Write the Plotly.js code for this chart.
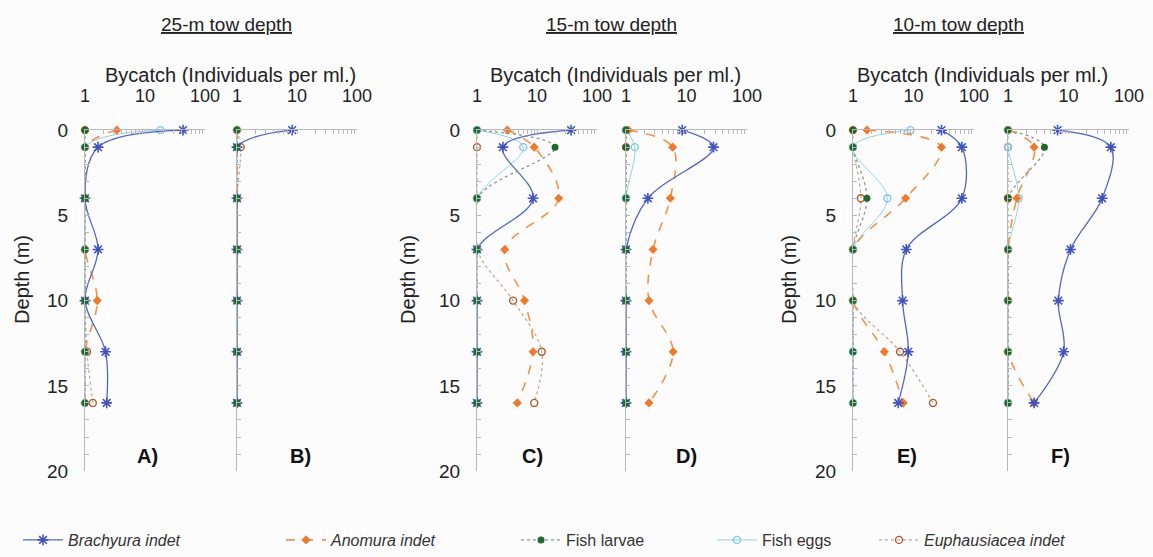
<!DOCTYPE html>
<html>
<head>
<meta charset="utf-8">
<script src="https://cdn.plot.ly/plotly-3.0.1.min.js"></script>
<style>html,body{margin:0;padding:0;background:#fdfcfd;}#chart{width:1153px;height:557px;}</style>
</head>
<body>
<div id="chart"></div>
<script>
// Depths (m) at which samples were taken
const depths = [0, 1, 4, 7, 10, 13, 16];

// Panel titles / tick labels
const towTitles = ['25-m tow depth', '15-m tow depth', '10-m tow depth'];
const panelLabels = ['A)', 'B)', 'C)', 'D)', 'E)', 'F)'];
const xTickVals = [1, 10, 100];
const yTickVals = [0, 5, 10, 15, 20];
const seriesNames = ['<i>Brachyura indet</i>', '<i>Anomura indet</i>', 'Fish larvae', 'Fish eggs', '<i>Euphausiacea indet</i>'];

// Bycatch (individuals per ml), panels A–F
const brachyuraA = [43, 1.65, 1, 1.65, 1, 2.2, 2.3];
const anomuraA   = [3.4, 1, 1, 1, 1.6, 1, 1];
const larvaeA    = [1, 1, 1, 1, 1, 1, 1];
const eggsA      = [18, 1, 1, 1, 1, 1, 1];
const euphA      = [1, 1, 1, 1, 1, 1.08, 1.35];

const brachyuraB = [8.3, 1, 1, 1, 1, 1, 1];
const anomuraB   = [1, 1, 1, 1, 1, 1, 1];
const larvaeB    = [1, 1, 1, 1, 1, 1, 1];
const eggsB      = [1, 1, 1, 1, 1, 1, 1];
const euphB      = [1, 1.15, 1, 1, 1, 1, 1];

const brachyuraC = [37, 2.7, 8.6, 1, 1, 1, 1];
const anomuraC   = [3.2, 9, 23, 2.9, 6.2, 8.6, 4.7];
const larvaeC    = [1, 20, 1, 1, 1, 1, 1];
const eggsC      = [1, 5.9, 1, 1, 1, 1, 1];
const euphC      = [1, 1, 1, 1, 4, 12, 9];

const brachyuraD = [8.5, 28, 2.3, 1, 1, 1, 1];
const anomuraD   = [1.1, 5.9, 5.4, 2.8, 2.4, 6, 2.4];
const larvaeD    = [1, 1, 1, 1, 1, 1, 1];
const eggsD      = [1, 1.4, 1, 1, 1, 1, 1];
const euphD      = [1, 1, 1, 1, 1, 1, 1];

const brachyuraE = [29, 63, 63, 7.6, 6.6, 8.2, 5.6];
const anomuraE   = [1.7, 29, 7.4, 1, 1, 3.3, 6.8];
const larvaeE    = [1, 1, 1.7, 1, 1, 1, 1];
const eggsE      = [8.9, 1, 3.7, 1, 1, 1, 1];
const euphE      = [1, 1, 1.35, 1, 1, 6, 21];

const brachyuraF = [6.6, 50, 36, 10.8, 6.8, 8.3, 2.7];
const anomuraF   = [1, 2.7, 1.4, 1, 1, 1, 2.7];
const larvaeF    = [1, 4, 1, 1, 1, 1, 1];
const eggsF      = [1, 1, 1.5, 1, 1, 1, 1];
const euphF      = [1, 1, 1, 1, 1, 1, 1];

const panels = [
  [brachyuraA, anomuraA, larvaeA, eggsA, euphA],
  [brachyuraB, anomuraB, larvaeB, eggsB, euphB],
  [brachyuraC, anomuraC, larvaeC, eggsC, euphC],
  [brachyuraD, anomuraD, larvaeD, eggsD, euphD],
  [brachyuraE, anomuraE, larvaeE, eggsE, euphE],
  [brachyuraF, anomuraF, larvaeF, eggsF, euphF]
];

// ---- styling ----
const W = 1153, H = 557;
const styles = [
  {line: {color: '#5366c2', width: 1.3, dash: 'solid', shape: 'spline'}, marker: {symbol: 'asterisk-open', size: 9, color: '#3f52c2', line: {width: 1.6, color: '#3f52c2'}}},
  {line: {color: '#f2924a', width: 1.6, dash: 'dash', shape: 'spline'}, marker: {symbol: 'diamond', size: 7, color: '#f07a2a'}},
  {line: {color: '#8a9a88', width: 1.3, dash: 'dot', shape: 'spline'}, marker: {symbol: 'circle', size: 7, color: '#1d6a2a'}},
  {line: {color: '#8fd3ea', width: 1, dash: 'solid', shape: 'spline'}, marker: {symbol: 'circle-open', size: 7, color: '#7cc8e4', line: {width: 1.4}}},
  {line: {color: '#c2a48a', width: 1.2, dash: 'dot', shape: 'spline'}, marker: {symbol: 'circle-open', size: 7, color: '#b0582a', line: {width: 1.4}}}
];
const drawOrder = [4, 3, 1, 0, 2];

const xPix = [[85, 205], [237, 357], [477, 597], [626, 747], [853, 974], [1008, 1129]];
const yTop = 132, yBot = 478;
const legendX = [18, 281, 516, 712, 874];
const labelPix = [147, 300, 532, 686, 907, 1060];

const traces = [];
panels.forEach((series, p) => {
  drawOrder.forEach(s => {
    const st = styles[s];
    traces.push({
      type: 'scatter', mode: 'lines+markers',
      x: series[s], y: depths,
      xaxis: 'x' + (p + 1), yaxis: 'y' + (p + 1),
      name: seriesNames[s],
      line: st.line, marker: st.marker,
      cliponaxis: false,
      showlegend: p === 0,
      legend: s === 0 ? 'legend' : 'legend' + (s + 1)
    });
  });
});

const layout = {
  width: W, height: H,
  margin: {l: 0, r: 0, t: 0, b: 0},
  paper_bgcolor: '#fdfcfd', plot_bgcolor: 'rgba(0,0,0,0)',
  font: {family: 'Liberation Sans, Arial, sans-serif', color: '#222'},
  annotations: [],
  showlegend: true
};

const yDom = [1 - yBot / H, 1 - yTop / H];
const minorX = [];
for (let d = 1; d <= 100; d *= 10) for (let k = 1; k < 10; k++) if (d * k <= 100) minorX.push(d * k);
minorX.push(100);
const minorY = [];
for (let k = 0; k <= 20; k++) minorY.push(k);

for (let p = 0; p < 6; p++) {
  const i = p + 1;
  const left = p % 2 === 0;
  layout['xaxis' + i] = {
    type: 'log', range: [0, 2], domain: [xPix[p][0] / W, xPix[p][1] / W],
    anchor: 'y' + i, side: 'top', showline: true, linecolor: '#b9b9b9', linewidth: 1,
    showgrid: false, zeroline: false,
    tickmode: 'array', tickvals: minorX,
    ticktext: minorX.map(v => xTickVals.includes(v) ? String(v) : ''),
    ticks: 'inside', ticklen: 4, tickcolor: '#b9b9b9', tickwidth: 1,
    tickfont: {size: 18, color: '#222'}, ticklabelstandoff: 20
  };
  layout['yaxis' + i] = {
    range: [20, 0], domain: yDom, anchor: 'x' + i,
    showline: true, linecolor: '#b9b9b9', linewidth: 1,
    showgrid: false, zeroline: false,
    tickmode: 'array', tickvals: minorY,
    ticktext: minorY.map(v => (left && yTickVals.includes(v)) ? String(v) : ''),
    ticks: 'inside', ticklen: 4, tickcolor: '#b9b9b9', tickwidth: 1,
    tickfont: {size: 19, color: '#222'}, ticklabelstandoff: 12
  };
  layout.annotations.push({
    xref: 'paper', yref: 'paper', x: labelPix[p] / W, y: 1 - 463 / H,
    xanchor: 'center', yanchor: 'middle',
    text: '<b>' + panelLabels[p] + '</b>', showarrow: false, font: {size: 20, color: '#111'}
  });
}

const groupCenters = [226, 611, 958];
const bycatchCenters = [230, 615, 983];
const depthX = [22, 408, 789];
for (let g = 0; g < 3; g++) {
  layout.annotations.push({
    xref: 'paper', yref: 'paper', x: groupCenters[g] / W, y: 1 - 25 / H,
    xanchor: 'center', yanchor: 'middle',
    text: '<u>' + towTitles[g] + '</u>', showarrow: false,
    font: {size: 19, family: 'Liberation Sans Narrow, Arial Narrow, Liberation Sans, sans-serif', color: '#222'}
  });
  layout.annotations.push({
    xref: 'paper', yref: 'paper', x: bycatchCenters[g] / W, y: 1 - 76 / H,
    xanchor: 'center', yanchor: 'middle',
    text: 'Bycatch (Individuals per ml.)', showarrow: false, font: {size: 20, color: '#222'}
  });
  layout.annotations.push({
    xref: 'paper', yref: 'paper', x: depthX[g] / W, y: 1 - 284 / H,
    xanchor: 'center', yanchor: 'middle',
    text: 'Depth (m)', textangle: -90, showarrow: false, font: {size: 20, color: '#222'}
  });
}

for (let s = 0; s < 5; s++) {
  const key = s === 0 ? 'legend' : 'legend' + (s + 1);
  layout[key] = {
    x: legendX[s] / W, y: 1 - 548 / H, xanchor: 'left', yanchor: 'middle',
    orientation: 'h', bgcolor: 'rgba(0,0,0,0)', itemwidth: 40,
    font: {size: 16, color: '#333'}
  };
}

Plotly.newPlot('chart', traces, layout, {staticPlot: true});
</script>
</body>
</html>
